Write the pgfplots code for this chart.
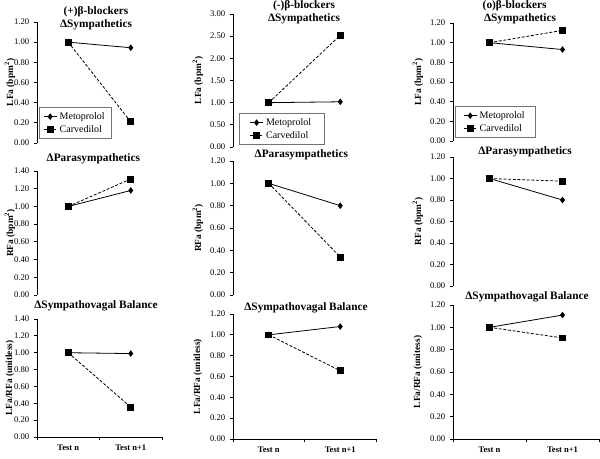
\documentclass[border=0pt]{standalone}
\usepackage{fontspec}
\setmainfont{Liberation Serif}
\usepackage{pgfplots}
\pgfplotsset{compat=1.18}
\pgfplotsset{
  panel/.style={
    scale only axis, anchor=south west,
    xmin=0, xmax=2, ymin=0,
    axis lines=left,
    axis line style={-, line width=0.6pt, black},
    tick align=outside,
    major tick length=2.25pt, minor tick length=2.25pt,
    tick style={black, line width=0.6pt},
    /pgf/number format/assume math mode=true,
    yticklabel style={/pgf/number format/.cd, fixed, fixed zerofill, precision=2},
    ticklabel style={font=\fontsize{6.5}{7}\selectfont},
    clip=false,
    legend cell align=left,
    legend style={anchor=south west, draw=black!55, line width=0.5pt,
      font=\rmfamily\fontsize{7.5}{8.5}\selectfont, inner xsep=3pt, inner ysep=1.5pt, row sep=-1pt},
    legend image code/.code={\draw[mark repeat=2,mark phase=2] plot coordinates {(0cm,0cm)(0.17cm,0cm)(0.34cm,0cm)};},
  },
  toprow/.style={xtick=\empty, x axis line style={draw=none}},
  botrow/.style={xtick={0,1,2}, xticklabels={,,},
    extra x ticks={0.5,1.5}, extra x tick labels={Test n, Test n+1},
    extra x tick style={major tick length=0pt, tick label style={font=\bfseries\fontsize{6.4}{7}\selectfont, yshift=-2.5pt}}},
  met/.style={black, line width=0.6pt, mark=diamond*, mark size=2pt, mark options={solid}},
  car/.style={black, line width=0.6pt, dash pattern=on 2.2pt off 1.3pt, mark=square*, mark size=2.2pt, mark options={solid}},
}
\newcommand{\tf}{\bfseries\fontsize{8.5}{10}\selectfont}
\newcommand{\lf}{\bfseries\fontsize{7}{8}\selectfont}
\begin{document}
\begin{tikzpicture}
\useasboundingbox (0,0) rectangle (450pt,-343.5pt);
% ---------------- Left column ----------------
\begin{axis}[panel, toprow, at={(27.75pt,-107.25pt)}, width=93.75pt, height=90.75pt,
  ymax=1.2, ytick={0,0.2,...,1.21}, legend style={at={(0.016,0.033)}}]
\addplot[met] coordinates {(0.5,1.00) (1.5,0.945)};
\addlegendentry{Metoprolol}
\addplot[car] coordinates {(0.5,1.00) (1.5,0.21)};
\addlegendentry{Carvedilol}
\end{axis}
\begin{axis}[panel, toprow, at={(27.75pt,-221.25pt)}, width=93.75pt, height=93pt,
  ymax=1.4, ytick={0,0.2,...,1.41}]
\addplot[met] coordinates {(0.5,1.00) (1.5,1.18)};
\addplot[car] coordinates {(0.5,1.00) (1.5,1.31)};
\end{axis}
\begin{axis}[panel, botrow, at={(27.75pt,-327.75pt)}, width=93.75pt, height=88.5pt,
  ymax=1.4, ytick={0,0.2,...,1.41}]
\addplot[met] coordinates {(0.5,1.00) (1.5,0.99)};
\addplot[car] coordinates {(0.5,1.00) (1.5,0.355)};
\end{axis}
% ---------------- Middle column ----------------
\begin{axis}[panel, toprow, at={(174.75pt,-110.25pt)}, width=107.25pt, height=99.75pt,
  ymax=3, ytick={0,0.5,...,3.01}, legend style={at={(0.04,0.015)}, inner xsep=8pt}]
\addplot[met] coordinates {(0.5,1.00) (1.5,1.02)};
\addlegendentry{Metoprolol}
\addplot[car] coordinates {(0.5,1.00) (1.5,2.52)};
\addlegendentry{Carvedilol}
\end{axis}
\begin{axis}[panel, toprow, at={(174.75pt,-221.25pt)}, width=107.25pt, height=100.5pt,
  ymax=1.2, ytick={0,0.2,...,1.21}]
\addplot[met] coordinates {(0.5,1.00) (1.5,0.80)};
\addplot[car] coordinates {(0.5,1.00) (1.5,0.34)};
\end{axis}
\begin{axis}[panel, botrow, at={(174.75pt,-329.25pt)}, width=107.25pt, height=93.75pt,
  ymax=1.2, ytick={0,0.2,...,1.21}]
\addplot[met] coordinates {(0.5,1.00) (1.5,1.08)};
\addplot[car] coordinates {(0.5,1.00) (1.5,0.655)};
\end{axis}
% ---------------- Right column ----------------
\begin{axis}[panel, toprow, at={(339.75pt,-105.75pt)}, width=109.5pt, height=88.5pt,
  ymax=1.2, ytick={0,0.2,...,1.21}, legend style={at={(0.014,0.025)}, inner xsep=6pt}]
\addplot[met] coordinates {(0.5,1.00) (1.5,0.93)};
\addlegendentry{Metoprolol}
\addplot[car] coordinates {(0.5,1.00) (1.5,1.125)};
\addlegendentry{Carvedilol}
\end{axis}
\begin{axis}[panel, toprow, at={(339.75pt,-214.5pt)}, width=109.5pt, height=96.75pt,
  ymax=1.2, ytick={0,0.2,...,1.21}]
\addplot[met] coordinates {(0.5,1.00) (1.5,0.80)};
\addplot[car] coordinates {(0.5,1.00) (1.5,0.975)};
\end{axis}
\begin{axis}[panel, botrow, at={(339.75pt,-329.25pt)}, width=109.5pt, height=100.5pt,
  ymax=1.2, ytick={0,0.2,...,1.21}]
\addplot[met] coordinates {(0.5,1.00) (1.5,1.11)};
\addplot[car] coordinates {(0.5,1.00) (1.5,0.905)};
\end{axis}
% ---------------- Titles ----------------
\node[font=\tf] at (72pt,-9pt) {(+)β-blockers};
\node[font=\tf] at (72pt,-18.5pt) {ΔSympathetics};
\node[font=\tf] at (70pt,-119.25pt) {ΔParasympathetics};
\node[font=\tf] at (72pt,-229.5pt) {ΔSympathovagal Balance};
\node[font=\tf] at (228pt,-4pt) {(-)β-blockers};
\node[font=\tf] at (228pt,-14.25pt) {ΔSympathetics};
\node[font=\tf] at (226pt,-116.25pt) {ΔParasympathetics};
\node[font=\tf] at (229.5pt,-231pt) {ΔSympathovagal Balance};
\node[font=\tf] at (386pt,-4.5pt) {(o)β-blockers};
\node[font=\tf] at (390pt,-14.25pt) {ΔSympathetics};
\node[font=\tf] at (393.75pt,-114pt) {ΔParasympathetics};
\node[font=\tf] at (395.25pt,-222.75pt) {ΔSympathovagal Balance};
% ---------------- Y labels ----------------
\node[font=\lf, rotate=90] at (7.5pt,-61.9pt) {LFa (bpm\textsuperscript{2})};
\node[font=\lf, rotate=90] at (7.5pt,-174.75pt) {RFa (bpm\textsuperscript{2})};
\node[font=\lf, rotate=90] at (7.5pt,-283.5pt) {LFa/RFa (unitless)};
\node[font=\lf, rotate=90] at (148.5pt,-60.4pt) {LFa (bpm\textsuperscript{2})};
\node[font=\lf, rotate=90] at (148.5pt,-171pt) {RFa (bpm\textsuperscript{2})};
\node[font=\lf, rotate=90] at (148.5pt,-282.4pt) {LFa/RFa (unitless)};
\node[font=\lf, rotate=90] at (313.5pt,-61.5pt) {LFa (bpm\textsuperscript{2})};
\node[font=\lf, rotate=90] at (313.5pt,-166.1pt) {RFa (bpm\textsuperscript{2})};
\node[font=\lf, rotate=90] at (313.5pt,-279pt) {LFa/RFa (unitess)};
\end{tikzpicture}
\end{document}
